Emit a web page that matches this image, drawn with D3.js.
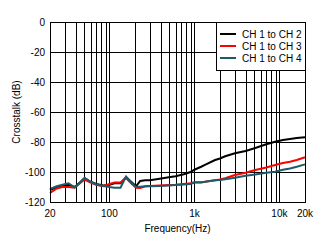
<!DOCTYPE html>
<head>
<meta charset="utf-8">
<style>
body { margin: 0; background: #fff; }
text { font: 10px "Liberation Sans", Arial, sans-serif; fill: #000; }
.grid line { stroke: #000; stroke-width: 1; shape-rendering: crispEdges; }
.line { fill: none; stroke-width: 2; }
</style>
<script src="https://cdn.jsdelivr.net/npm/d3@7"></script>
</head>
<body>
<script>
var freq = [20, 24, 28, 33, 39, 45, 51, 60, 70, 85, 100, 115, 135, 157, 180, 206, 230, 265, 300, 390, 500, 600, 750, 900, 1000, 1200, 1330, 1750, 2000, 2300, 3000, 4000, 5200, 7000, 8900, 11000, 13300, 16000, 20000];

var ch2 = [-112, -110, -109, -108.5, -110, -107, -104.2, -106.5, -108, -109, -108.5, -107.5, -107.5, -103.5, -106.5, -109.5, -106, -105.5, -105.5, -104.5, -103.5, -102.8, -101.5, -100, -98.5, -96.5, -95.3, -92, -91, -89.5, -87.5, -86, -84, -81.5, -79.8, -78.7, -78, -77.3, -76.9];
var ch3 = [-114, -111, -110, -110, -110.5, -107.5, -105, -107, -108.5, -109.5, -108, -107, -107, -104, -107.5, -110.5, -110.7, -109.5, -109.3, -109, -108.7, -108.5, -108, -107.5, -106.8, -106.8, -106.5, -105.5, -105, -104.2, -102, -100.5, -98.7, -97, -95.3, -94, -93.1, -92, -90.2];
var ch4 = [-111.3, -109.5, -108.5, -107.5, -110.3, -107, -103.8, -106.5, -108.3, -109.3, -110, -110.5, -110.5, -103, -107, -110, -109.8, -109.5, -109.5, -109.3, -109, -108.7, -108.3, -108, -107, -107, -106.5, -105.5, -105.3, -104.8, -103.8, -102.5, -101.6, -100.5, -99.8, -98.5, -97.6, -96.5, -94.9];

var seriesNames = ["CH 1 to CH 2", "CH 1 to CH 3", "CH 1 to CH 4"];
var seriesColors = ["#000000", "#ff0000", "#1f5a68"];
var yTicks = [0, -20, -40, -60, -80, -100, -120];
var xTicks = [20, 100, 1000, 10000, 20000];
var xTickLabels = ["20", "100", "1k", "10k", "20k"];
var xGrid = [30, 40, 50, 60, 70, 80, 90, 100, 200, 300, 400, 500, 600, 700, 800, 900, 1000, 2000, 3000, 4000, 5000, 6000, 7000, 8000, 9000, 10000];

var margin = {top: 22, right: 15, bottom: 40, left: 50},
    width = 255,
    height = 180;

var x = d3.scaleLog().domain([20, 20000]).range([0, width]);
var y = d3.scaleLinear().domain([-120, 0]).range([height, 0]);

var svg = d3.select("body").append("svg")
    .attr("width", 320)
    .attr("height", 242)
  .append("g")
    .attr("transform", "translate(" + margin.left + "," + margin.top + ")");

var grid = svg.append("g").attr("class", "grid");
grid.selectAll(".vg").data(xGrid).enter().append("line")
    .attr("x1", function(d) { return Math.round(x(d)) + 0.5; })
    .attr("x2", function(d) { return Math.round(x(d)) + 0.5; })
    .attr("y1", 0).attr("y2", height);
grid.selectAll(".hg").data(yTicks).enter().append("line")
    .attr("x1", 0).attr("x2", width)
    .attr("y1", function(d) { return Math.round(y(d)) + 0.5; })
    .attr("y2", function(d) { return Math.round(y(d)) + 0.5; });

var series = [ch2, ch3, ch4];
var line = d3.line()
    .x(function(d, i) { return x(freq[i]); })
    .y(function(d) { return y(d); });

series.forEach(function(s, k) {
  svg.append("path")
      .datum(s)
      .attr("class", "line")
      .attr("d", line)
      .style("stroke", seriesColors[k]);
});

svg.append("rect")
    .attr("x", 0.5).attr("y", 0.5)
    .attr("width", width).attr("height", height)
    .attr("fill", "none").attr("stroke", "#000")
    .attr("shape-rendering", "crispEdges");

// y tick labels
svg.selectAll(".ylab").data(yTicks).enter().append("text")
    .attr("x", -5)
    .attr("y", function(d) { return y(d); })
    .attr("dy", "0.35em")
    .attr("text-anchor", "end")
    .text(function(d) { return d; });

// x tick labels
svg.selectAll(".xlab").data(xTicks).enter().append("text")
    .attr("x", function(d) { return x(d); })
    .attr("y", height + 15)
    .attr("text-anchor", "middle")
    .text(function(d, i) { return xTickLabels[i]; });

svg.append("text")
    .attr("x", width / 2)
    .attr("y", height + 30)
    .attr("text-anchor", "middle")
    .text("Frequency(Hz)");

svg.append("text")
    .attr("transform", "rotate(-90)")
    .attr("x", -height / 2)
    .attr("y", -30)
    .attr("text-anchor", "middle")
    .text("Crosstalk (dB)");

// legend
var lg = svg.append("g").attr("transform", "translate(" + (width - 89) + ",0)");
lg.append("rect")
    .attr("x", 0.5).attr("y", 0.5)
    .attr("width", 89).attr("height", 48)
    .attr("fill", "#fff").attr("stroke", "#000")
    .attr("shape-rendering", "crispEdges");
seriesNames.forEach(function(n, k) {
  var yy = 12 + k * 12;
  lg.append("line")
      .attr("x1", 4).attr("x2", 20)
      .attr("y1", yy).attr("y2", yy)
      .attr("stroke", seriesColors[k]).attr("stroke-width", 2);
  lg.append("text")
      .attr("x", 26).attr("y", yy)
      .attr("dy", "0.35em")
      .text(n);
});
</script>
</body>
